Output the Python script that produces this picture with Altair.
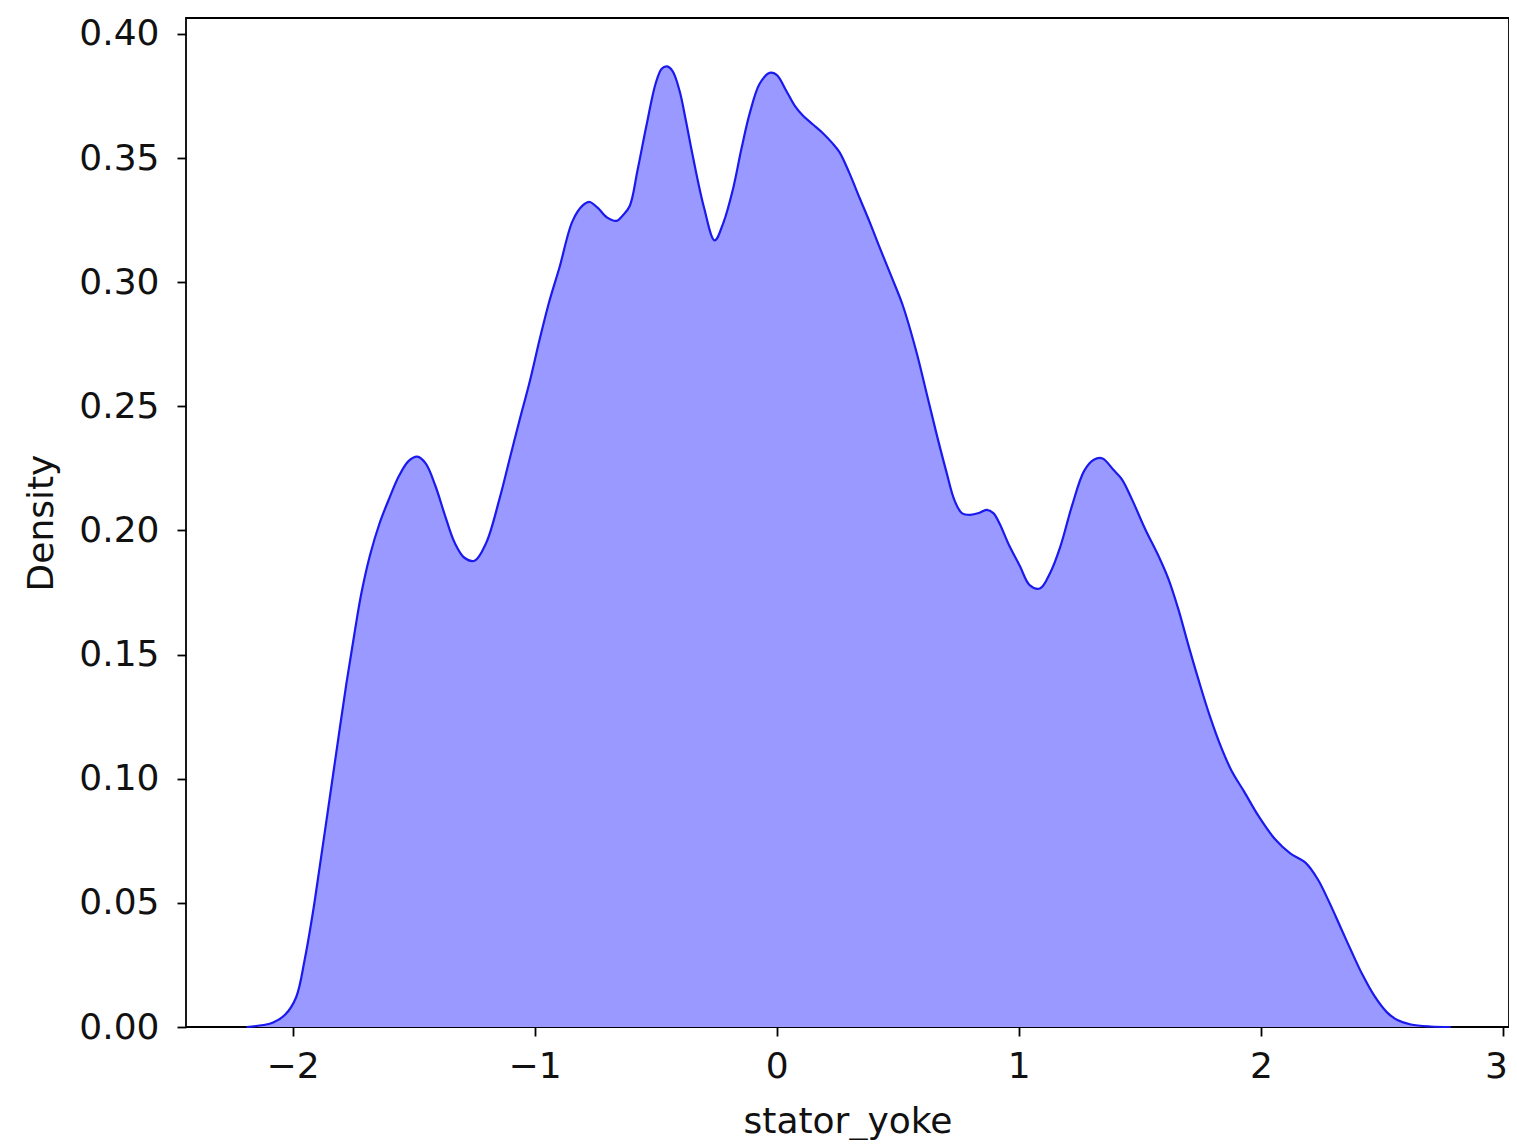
import altair as alt
import pandas as pd

xs = [-2.19, -2.12, -2.08, -2.03, -1.985, -1.95, -1.916, -1.89, -1.86, -1.82,
      -1.778, -1.745, -1.716, -1.68, -1.64, -1.60, -1.56, -1.52, -1.485, -1.45,
      -1.41, -1.37, -1.33, -1.29, -1.248, -1.20, -1.145, -1.10, -1.062, -1.02,
      -0.979, -0.94, -0.897, -0.843, -0.80, -0.773, -0.74, -0.70, -0.662, -0.635,
      -0.607, -0.575, -0.538, -0.50, -0.475, -0.453, -0.43, -0.401, -0.375, -0.347,
      -0.30, -0.256, -0.22, -0.182, -0.145, -0.112, -0.07, -0.029, 0.0, 0.04,
      0.075, 0.109, 0.15, 0.191, 0.23, 0.26, 0.30, 0.343, 0.385, 0.426,
      0.475, 0.521, 0.577, 0.62, 0.66, 0.70, 0.735, 0.765, 0.80, 0.835,
      0.867, 0.895, 0.921, 0.96, 1.004, 1.045, 1.087, 1.13, 1.172, 1.22,
      1.27, 1.31, 1.346, 1.39, 1.426, 1.47, 1.52, 1.583, 1.62, 1.66,
      1.70, 1.742, 1.79, 1.837, 1.88, 1.931, 1.99, 2.058, 2.12, 2.185,
      2.235, 2.279, 2.33, 2.374, 2.42, 2.469, 2.52, 2.564, 2.62, 2.70, 2.785]
density = [0.0, 0.0008, 0.0018, 0.005, 0.012, 0.027, 0.046, 0.063, 0.083, 0.110,
           0.138, 0.158, 0.1745, 0.190, 0.203, 0.213, 0.222, 0.228, 0.2297, 0.227,
           0.218, 0.206, 0.195, 0.189, 0.1878, 0.195, 0.2127, 0.230, 0.2445, 0.260,
           0.277, 0.292, 0.306, 0.3247, 0.331, 0.3323, 0.330, 0.326, 0.3247, 0.327,
           0.3307, 0.345, 0.3631, 0.380, 0.386, 0.3869, 0.385, 0.377, 0.365, 0.351,
           0.330, 0.3168, 0.324, 0.3369, 0.354, 0.3678, 0.380, 0.3843, 0.3835, 0.377,
           0.371, 0.367, 0.3635, 0.360, 0.356, 0.3523, 0.344, 0.3338, 0.324, 0.3138,
           0.302, 0.2906, 0.272, 0.255, 0.239, 0.224, 0.212, 0.207, 0.2063, 0.207,
           0.2083, 0.207, 0.2027, 0.194, 0.1858, 0.178, 0.1766, 0.183, 0.1936, 0.210,
           0.224, 0.2285, 0.229, 0.2245, 0.2206, 0.212, 0.201, 0.1885, 0.180, 0.168,
           0.154, 0.140, 0.125, 0.1124, 0.103, 0.0948, 0.085, 0.0757, 0.070, 0.0661,
           0.0595, 0.051, 0.040, 0.0305, 0.021, 0.0125, 0.006, 0.0028, 0.001, 0.0002, 0.0]

x_ticks = [-2, -1, 0, 1, 2, 3]
y_ticks = [0.0, 0.05, 0.10, 0.15, 0.20, 0.25, 0.30, 0.35, 0.40]

df = pd.DataFrame({"stator_yoke": xs, "Density": density})

FONT = "DejaVu Sans"

x_enc = alt.X("stator_yoke:Q",
              scale=alt.Scale(domain=[-2.44, 3.025], nice=False, zero=False),
              axis=alt.Axis(values=x_ticks, format="d", title="stator_yoke",
                            grid=False, tickSize=9, labelPadding=13, titlePadding=20,
                            labelOffset={"condition": {"test": "datum.value == 3", "value": -7},
                                         "value": 0},
                            domain=False))
y_enc = alt.Y("Density:Q",
              scale=alt.Scale(domain=[0, 0.4064], nice=False),
              axis=alt.Axis(values=y_ticks, format=".2f", title="Density",
                            grid=False, tickSize=9, labelPadding=18, titlePadding=18,
                            domain=False))

area = alt.Chart(df).mark_area(
    color="#9999ff", opacity=1, interpolate="catmull-rom",
    line={"color": "#1a1aee", "strokeWidth": 2.2},
).encode(x=x_enc, y=y_enc)

chart = area.properties(
    width=1323, height=1009,
    autosize=alt.AutoSizeParams(type="none"),
    padding={"left": 178, "top": 10, "right": 0, "bottom": 113},
).configure_view(
    stroke="black", strokeWidth=1.8
).configure_axis(
    labelFont=FONT, titleFont=FONT, labelFontSize=36, titleFontSize=36,
    labelColor="#111", titleColor="#111", titleFontWeight="normal",
    tickColor="black", tickWidth=1.8,
)

chart.save("out.html", embed_options={"renderer": "svg", "actions": False})
